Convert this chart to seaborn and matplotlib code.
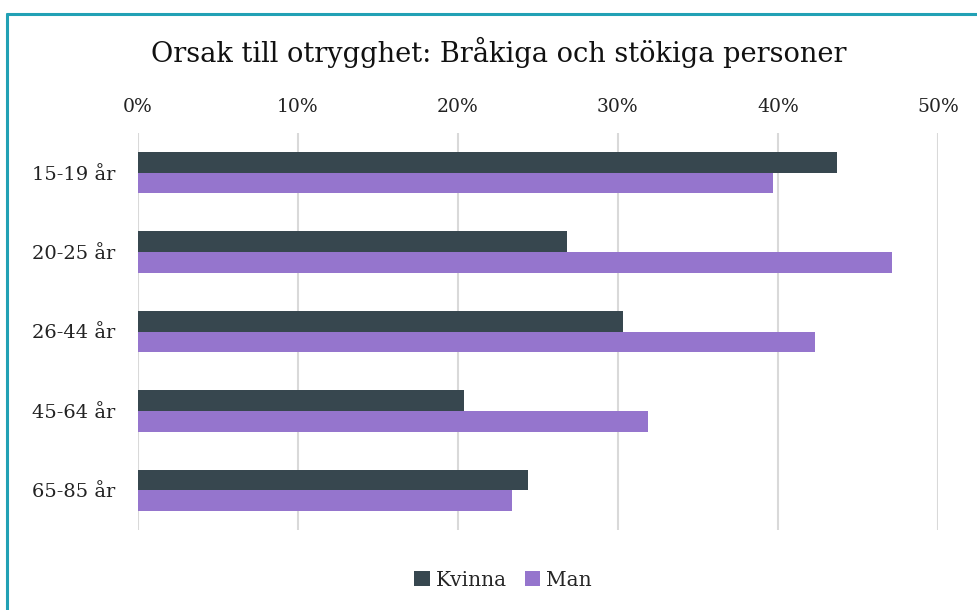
import matplotlib
matplotlib.use("Agg")
import matplotlib.pyplot as plt
import seaborn as sns
import pandas as pd
from matplotlib.lines import Line2D
from matplotlib.ticker import FuncFormatter

categories = ["15-19 år", "20-25 år", "26-44 år", "45-64 år", "65-85 år"]
kvinna = [43.7, 26.8, 30.3, 20.4, 24.4]
man = [39.7, 47.1, 42.3, 31.9, 23.4]
series = ["Kvinna", "Man"]
xticks = [0, 10, 20, 30, 40, 50]
title = "Orsak till otrygghet: Bråkiga och stökiga personer"

colors = {"Kvinna": "#37474F", "Man": "#9575CD"}

df = pd.DataFrame({
    "age": categories * 2,
    "value": kvinna + man,
    "kön": [series[0]] * len(categories) + [series[1]] * len(categories),
})

sns.set_theme(style="white")
plt.rcParams["font.family"] = ["DejaVu Serif"]

W, H = 978, 610
fig = plt.figure(figsize=(W / 100, H / 100), dpi=100)
ax = fig.add_axes([137.7 / W, (H - 530) / H, (938 - 137.7) / W, (530 - 133) / H])

sns.barplot(data=df, y="age", x="value", hue="kön", order=categories,
            hue_order=series, palette=colors, width=0.52, orient="h",
            linewidth=0, saturation=1, ax=ax, legend=True)

ax.set_xlim(0, 50)
ax.set_ylim(len(categories) - 0.5, -0.5)
ax.xaxis.tick_top()
ax.set_xticks(xticks)
ax.xaxis.set_major_formatter(FuncFormatter(lambda v, p: f"{v:.0f}%"))
ax.grid(axis="x", color="#d9d9d9", linewidth=1.5)
ax.set_axisbelow(True)
for s in ax.spines.values():
    s.set_visible(False)
ax.set_xlabel("")
ax.set_ylabel("")
ax.tick_params(axis="x", labelsize=13.5, pad=12.5, length=0, colors="#222222")
ax.tick_params(axis="y", labelsize=14, pad=16, length=0, colors="#222222")
for lab in ax.get_yticklabels():
    lab.set_horizontalalignment("right")

fig.text(499 / W, (H - 52) / H, title, ha="center", va="center",
         fontsize=19.6, color="#111111")

leg = ax.legend(loc="center", bbox_to_anchor=(503 / W, 30 / H),
                bbox_transform=fig.transFigure, ncol=2, frameon=False,
                handlelength=0.75, handleheight=0.75, handletextpad=0.3,
                columnspacing=0.9, fontsize=14.5)

teal = "#22A1B5"
fig.add_artist(Line2D([7.5 / W, 7.5 / W], [0, (H - 14) / H], color=teal,
                      linewidth=2.2, transform=fig.transFigure))
fig.add_artist(Line2D([7.5 / W, 1], [(H - 14) / H, (H - 14) / H], color=teal,
                      linewidth=2.2, transform=fig.transFigure))

fig.savefig("out.png", dpi=100)
